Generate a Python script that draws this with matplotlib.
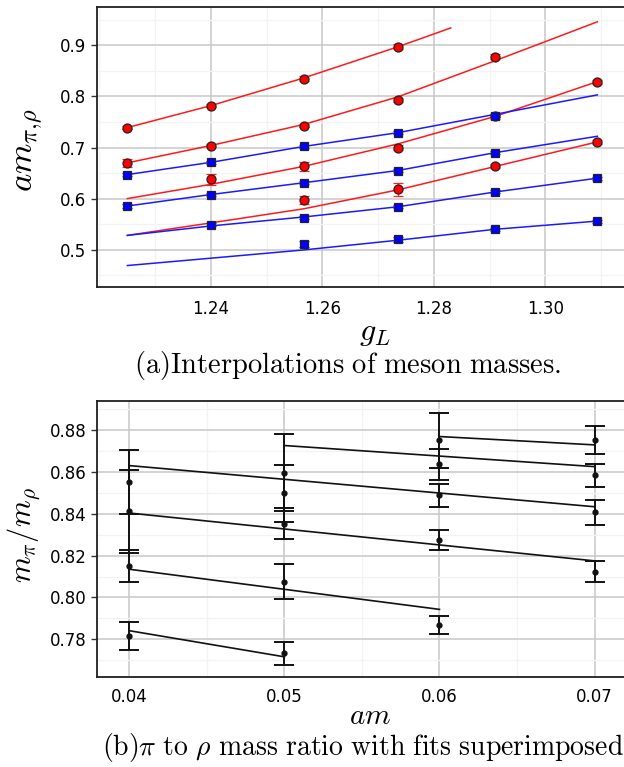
import numpy as np
import matplotlib
matplotlib.use("Agg")
import matplotlib.pyplot as plt
from matplotlib.ticker import MultipleLocator

plt.rcParams['mathtext.fontset'] = 'cm'
plt.rcParams['font.family'] = ['DejaVu Sans']

# ---------------- panel (a) data ----------------
gL = [1.225, 1.240, 1.2566, 1.2735, 1.291, 1.3093]
nan = np.nan
# rho (red circles)
rho1 = [0.739, 0.782, 0.835, 0.897, nan, nan]
rho2 = [0.670, 0.7035, 0.743, 0.793, 0.878, nan]
rho3 = [nan, 0.638, 0.663, 0.700, 0.761, 0.828]
rho4 = [nan, nan, 0.597, 0.618, 0.664, 0.711]
rho1_err = [0.003, 0.003, 0.004, 0.005, nan, nan]
rho2_err = [0.008, 0.003, 0.003, 0.004, 0.005, nan]
rho3_err = [nan, 0.011, 0.008, 0.005, 0.005, 0.004]
rho4_err = [nan, nan, 0.008, 0.012, 0.004, 0.004]
# pi (blue squares)
pi1 = [0.647, 0.671, 0.702, 0.729, 0.762, nan]
pi2 = [0.5855, 0.608, 0.631, 0.655, 0.690, nan]
pi3 = [nan, 0.549, 0.563, 0.584, 0.613, 0.640]
pi4 = [nan, nan, 0.5105, 0.520, 0.540, 0.556]
pi1_err = [0.003, 0.003, 0.003, 0.003, 0.003, nan]
pi2_err = [0.003, 0.003, 0.003, 0.003, 0.003, nan]
pi3_err = [nan, 0.003, 0.003, 0.003, 0.003, 0.003]
pi4_err = [nan, nan, 0.006, 0.004, 0.003, 0.003]
# interpolation curves
gL_fit_short = [1.225, 1.240, 1.2566, 1.2735, 1.283]
rho1_fit = [0.739, 0.782, 0.836, 0.897, 0.934]
gL_fit = [1.225, 1.240, 1.2566, 1.2735, 1.291, 1.3093]
rho2_fit = [0.670, 0.704, 0.745, 0.799, 0.870, 0.946]
rho3_fit = [0.600, 0.628, 0.663, 0.707, 0.761, 0.829]
rho4_fit = [0.528, 0.5525, 0.580, 0.617, 0.663, 0.711]
pi1_fit = [0.647, 0.671, 0.702, 0.729, 0.765, 0.803]
pi2_fit = [0.5855, 0.608, 0.631, 0.655, 0.690, 0.722]
pi3_fit = [0.528, 0.5465, 0.564, 0.584, 0.613, 0.640]
pi4_fit = [0.469, 0.4834, 0.4995, 0.5185, 0.540, 0.556]

# ---------------- panel (b) data ----------------
am = [0.04, 0.05, 0.06, 0.07]
ratio_am004 = [0.8554, 0.8413, 0.8150, 0.7815]
err_am004 = [0.0153, 0.0199, 0.0076, 0.0066]
ratio_am005 = [0.8596, 0.8498, 0.8353, 0.8076, 0.7732]
err_am005 = [0.0184, 0.0138, 0.0074, 0.0084, 0.0057]
ratio_am006 = [0.8752, 0.8637, 0.8488, 0.8274, 0.7869]
err_am006 = [0.0131, 0.0075, 0.0056, 0.0049, 0.0042]
ratio_am007 = [0.8752, 0.8584, 0.8407, 0.8124]
err_am007 = [0.0066, 0.0056, 0.0058, 0.0049]
fit1_am = [0.06, 0.07]; fit1_val = [0.877, 0.873]
fit2_am = [0.05, 0.07]; fit2_val = [0.8727, 0.8626]
fit3_am = [0.04, 0.07]; fit3_val = [0.8631, 0.8434]
fit4_am = [0.04, 0.07]; fit4_val = [0.8404, 0.8175]
fit5_am = [0.04, 0.06]; fit5_val = [0.8135, 0.7943]
fit6_am = [0.04, 0.05]; fit6_val = [0.7841, 0.7716]

W, H = 624, 767
fig = plt.figure(figsize=(W/100, H/100), dpi=100)

def fx(px):
    return px / W
def fy(py):
    return 1 - py / H

def style(ax):
    ax.grid(True, which='major', color='#c8c8c8', lw=1.1, zorder=0)
    ax.grid(True, which='minor', color='#f3f3f3', lw=0.9, zorder=0)
    ax.set_axisbelow(True)
    for s in ax.spines.values():
        s.set_color('#202020')
        s.set_linewidth(1.3)
    ax.tick_params(which='major', direction='out', length=4, width=1, labelsize=12, color='#333333')
    ax.tick_params(which='minor', length=0)

# ---- top axes
axA = fig.add_axes([fx(96.7), fy(287), fx(628 - 96.7), fy(7) - fy(287)])
style(axA)
for x, y in [(gL_fit_short, rho1_fit), (gL_fit, rho2_fit), (gL_fit, rho3_fit), (gL_fit, rho4_fit)]:
    axA.plot(x, y, color='#ff1a1a', lw=1.1, zorder=2)
for y in [pi1_fit, pi2_fit, pi3_fit, pi4_fit]:
    axA.plot(gL_fit, y, color='#1a1aff', lw=1.1, zorder=2)
for y, e in [(rho1, rho1_err), (rho2, rho2_err), (rho3, rho3_err), (rho4, rho4_err)]:
    axA.errorbar(gL, y, yerr=e, fmt='o', ms=6.5, mfc='#ff0000', mec='#222222', mew=0.9,
                 ecolor='#ff2020', elinewidth=1.0, capsize=3.5, capthick=1.0, zorder=4)
for y, e in [(pi1, pi1_err), (pi2, pi2_err), (pi3, pi3_err), (pi4, pi4_err)]:
    axA.errorbar(gL, y, yerr=e, fmt='s', ms=6, mfc='#0000ff', mec='#222222', mew=0.9,
                 ecolor='#2020ff', elinewidth=1.0, capsize=3.5, capthick=1.0, zorder=4)
axA.set_xlim(1.2195, 1.2195 + (628 - 96.7) / 5575)
axA.set_ylim(0.427, 0.975)
axA.xaxis.set_major_locator(MultipleLocator(0.02))
axA.xaxis.set_minor_locator(MultipleLocator(0.01))
axA.yaxis.set_major_locator(MultipleLocator(0.1))
axA.yaxis.set_minor_locator(MultipleLocator(0.05))
axA.set_xticks([1.24, 1.26, 1.28, 1.30])
axA.set_xticklabels(['1.24', '1.26', '1.28', '1.30'])
axA.tick_params(axis='x', length=0, pad=9)

fig.text(fx(28), fy(150), r'$am_{\pi{,}\rho}$', fontsize=25, rotation=90, ha='center', va='center')
fig.text(fx(375), fy(333), r'$g_L$', fontsize=23, ha='center', va='center')
fig.text(fx(347), fy(366), r'$\mathrm{(a)Interpolations\ of\ meson\ masses.}$', fontsize=20.5,
         ha='center', va='center')

# ---- bottom axes
axB = fig.add_axes([fx(96.7), fy(677.3), fx(628 - 96.7), fy(401) - fy(677.3)])
style(axB)
for x, y in [(fit1_am, fit1_val), (fit2_am, fit2_val), (fit3_am, fit3_val),
             (fit4_am, fit4_val), (fit5_am, fit5_val), (fit6_am, fit6_val)]:
    axB.plot(x, y, color='#111111', lw=1.2, zorder=3)
for xv, ys, es in [(am[0], ratio_am004, err_am004), (am[1], ratio_am005, err_am005),
                   (am[2], ratio_am006, err_am006), (am[3], ratio_am007, err_am007)]:
    axB.errorbar([xv] * len(ys), ys, yerr=es, fmt='o', ms=3.5, color='#111111',
                 elinewidth=1.4, capsize=7.5, capthick=1.4, zorder=4)
axB.set_xlim(0.0379, 0.0379 + (628 - 96.7) / 15510)
axB.set_ylim(0.7618, 0.894)
axB.xaxis.set_major_locator(MultipleLocator(0.01))
axB.xaxis.set_minor_locator(MultipleLocator(0.005))
axB.yaxis.set_major_locator(MultipleLocator(0.02))
axB.yaxis.set_minor_locator(MultipleLocator(0.01))
axB.set_xticks(am)
axB.set_xticklabels(['0.04', '0.05', '0.06', '0.07'])
axB.set_yticks([0.78, 0.80, 0.82, 0.84, 0.86, 0.88])
axB.set_yticklabels(['0.78', '0.80', '0.82', '0.84', '0.86', '0.88'])
axB.tick_params(axis='x', length=0, pad=8)

fig.text(fx(24), fy(535), r'$m_{\pi}/m_{\rho}$', fontsize=22, rotation=90, ha='center', va='center')
fig.text(fx(370), fy(716), r'$am$', fontsize=21, ha='center', va='center')
fig.text(fx(363), fy(748), r'$\mathrm{(b)}\pi\mathrm{\ to\ }\rho\mathrm{\ mass\ ratio\ with\ fits\ superimposed}$',
         fontsize=20, ha='center', va='center')

fig.savefig('out.png', dpi=100)
